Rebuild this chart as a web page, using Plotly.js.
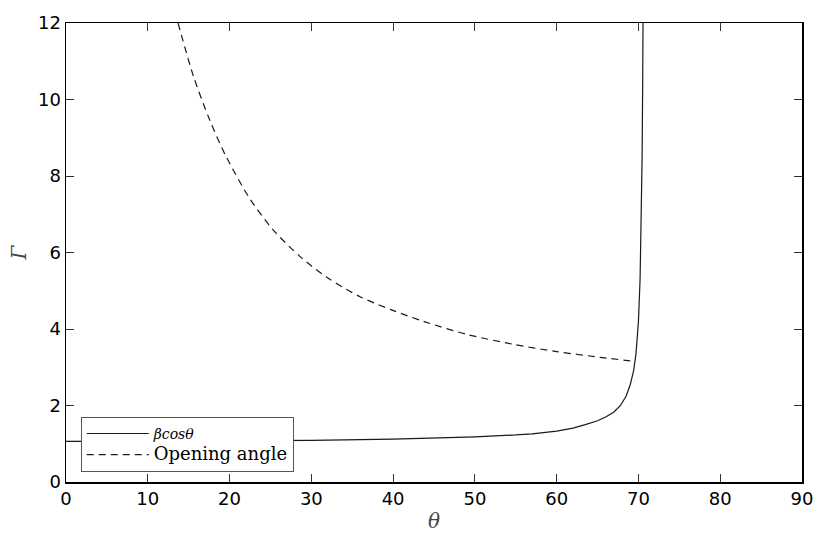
<html>
<head>
    <meta charset="utf-8">
    <script src="https://cdn.plot.ly/plotly-3.0.1.min.js"></script>
    <style>
        body {margin:0; background:#fff;}
        #chart {width:830px; height:535px;}
    </style>
</head>
<body>
    <div id="chart"></div>
    <script>
        // solid curve (beta cos theta)
        var thetaSolid = [0, 10, 20, 30, 40, 45, 50, 55, 57, 60, 62, 63.5, 65, 66, 67, 67.8, 68.5, 69.0, 69.4, 69.7, 70.0, 70.2, 70.35, 70.45, 70.52, 70.56];
        var gammaSolid = [1.06, 1.07, 1.07, 1.09, 1.12, 1.15, 1.18, 1.23, 1.26, 1.33, 1.41, 1.5, 1.6, 1.7, 1.83, 2.0, 2.25, 2.55, 2.9, 3.35, 4.2, 5.3, 6.8, 8.5, 10.5, 12];

        // dashed curve (opening angle)
        var thetaOpen = [13.7, 15.6, 17.6, 19.6, 22.5, 25.3, 28.6, 31.9, 35.9, 39.8, 43.7, 49.0, 54.7, 60.0, 65.3, 69.6];
        var gammaOpen = [12.0, 10.6, 9.45, 8.5, 7.4, 6.6, 5.9, 5.35, 4.85, 4.5, 4.2, 3.86, 3.6, 3.41, 3.26, 3.15];

        var xTicks = [0, 10, 20, 30, 40, 50, 60, 70, 80, 90];
        var yTicks = [0, 2, 4, 6, 8, 10, 12];

        var data = [
            {x: thetaSolid, y: gammaSolid, type: 'scatter', mode: 'lines',
             name: '<i>βcosθ</i>',
             line: {color: '#1a1a1a', width: 1.2}},
            {x: thetaOpen, y: gammaOpen, type: 'scatter', mode: 'lines',
             name: '<span style="font-size:18px">Opening angle</span>',
             line: {color: '#1a1a1a', width: 1.2, dash: '7px,5px', shape: 'spline', smoothing: 0.8}}
        ];

        var axisStyle = {
            showgrid: false, zeroline: false,
            showline: true, linecolor: '#000', linewidth: 1.5, mirror: 'allticks',
            ticks: 'inside', ticklen: 8, tickwidth: 1, tickcolor: '#333',
            tickfont: {family: 'DejaVu Sans', size: 18, color: '#000'}
        };

        var layout = {
            width: 830, height: 535,
            margin: {l: 66, r: 28, t: 23, b: 53},
            paper_bgcolor: '#fff', plot_bgcolor: '#fff',
            showlegend: true,
            legend: {x: 0.02, y: 0.022, xanchor: 'left', yanchor: 'bottom',
                     bgcolor: '#fff', bordercolor: '#555', borderwidth: 1,
                     font: {family: 'DejaVu Serif', size: 14, color: '#000'},
                     itemwidth: 62, tracegroupgap: 0},
            xaxis: Object.assign({}, axisStyle, {
                range: [0, 90], tickvals: xTicks, ticktext: xTicks.map(String),
                title: {text: '<i>θ</i>', font: {family: 'DejaVu Serif', size: 20}, standoff: 6}
            }),
            yaxis: Object.assign({}, axisStyle, {
                range: [0, 12], tickvals: yTicks, ticktext: yTicks.map(String),
                title: {text: '<i>Γ</i>', font: {family: 'DejaVu Serif', size: 20}, standoff: 6}
            })
        };

        Plotly.newPlot('chart', data, layout, {displayModeBar: false, staticPlot: true});
    </script>
</body>
</html>
